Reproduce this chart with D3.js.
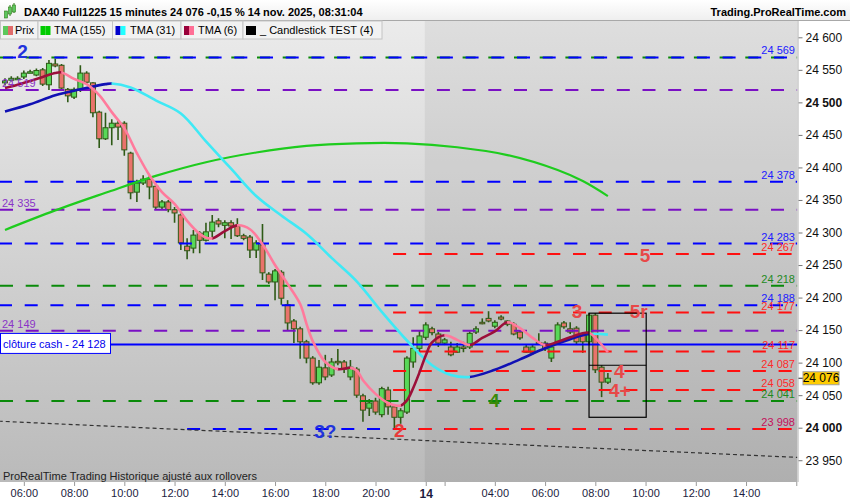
<!DOCTYPE html>
<html><head><meta charset="utf-8">
<script src="https://cdn.jsdelivr.net/npm/d3@7"></script>
<style>
body{margin:0;background:#fff}
svg{display:block}
text{font-family:"Liberation Sans",Arial,sans-serif}
</style>
</head><body>
<svg id="c" width="850" height="500"></svg>
<script>
// ---------------- DATA ----------------
// 15-minute candles, index 0 = 05:15 (13 nov), index 67 = first bar of 14 nov
const opens  = [24530,24534,24537,24539,24547,24542,24550,24527,24559,24557,24520,24508,24519,24545,24530,24485,24444,24461,24468,24468,
                24422,24362,24376,24382,24371,24339,24347,24335,24327,24279,24276,24299,24288,24302,24318,24311,24315,24310,24295,24293,
                24273,24281,24236,24224,24239,24189,24164,24152,24132,24107,24069,24092,24081,24102,24101,24078,24090,24049,24030,24041,
                24020,24058,24032,24016,24024,24101,24122,24139,24152,24144,24130,24124,24116,24124,24124,24147,24162,24168,24156,24170,
                24164,24159,24147,24124,24115,24131,24130,24107,24130,24161,24152,24153,24142,24132,24173,24093,24070];
const highs  = [24537,24540,24540,24549,24550,24552,24553,24565,24567,24559,24522,24523,24557,24548,24531,24487,24484,24474,24473,24471,
                24424,24381,24388,24387,24375,24350,24350,24339,24330,24291,24304,24302,24315,24327,24322,24319,24319,24322,24298,24296,
                24288,24313,24239,24244,24242,24196,24167,24155,24135,24110,24104,24112,24107,24121,24104,24104,24093,24052,24044,24046,
                24063,24063,24035,24030,24110,24139,24150,24162,24155,24147,24138,24132,24130,24132,24148,24156,24168,24179,24165,24173,
                24165,24162,24150,24127,24127,24145,24133,24127,24162,24164,24162,24156,24145,24176,24176,24096,24084];
const lows   = [24526,24532,24535,24536,24545,24540,24525,24519,24554,24520,24500,24505,24516,24528,24477,24430,24442,24434,24442,24418,
                24351,24347,24373,24351,24335,24336,24331,24315,24273,24259,24268,24268,24286,24293,24308,24291,24290,24293,24288,24261,
                24261,24227,24221,24196,24189,24150,24130,24106,24099,24066,24066,24073,24078,24096,24084,24073,24046,24009,24018,24020,
                24016,24020,23999,24006,24021,24092,24115,24135,24142,24124,24127,24110,24115,24116,24121,24144,24159,24162,24153,24165,
                24156,24142,24135,24115,24112,24127,24118,24101,24127,24152,24144,24128,24115,24128,24084,24047,24067];
const closes = [24533,24537,24537,24545,24547,24549,24528,24560,24556,24522,24510,24520,24545,24531,24484,24444,24461,24468,24462,24427,
                24361,24376,24382,24370,24339,24347,24335,24330,24284,24272,24296,24288,24301,24316,24313,24315,24310,24295,24291,24273,
                24284,24238,24224,24241,24199,24161,24152,24132,24107,24069,24093,24078,24101,24100,24090,24093,24050,24027,24038,24024,
                24060,24032,24016,24026,24107,24122,24141,24158,24146,24130,24135,24112,24124,24123,24145,24152,24160,24164,24162,24167,
                24159,24144,24138,24116,24124,24130,24121,24124,24158,24155,24147,24132,24132,24173,24089,24070,24076];

// indicators (read at sample bars)
const tma155Idx = [0,8,16,24,32,40,48,56,64,72,80,88,92,96];
const tma155Val = [24304,24334,24361,24387,24408,24423,24433,24437,24437,24431,24419,24396,24379,24356];
const tma31Idx  = [0,4,8,12,16,17,20,24,28,32,36,40,44,48,52,56,60,64,68,71,74,78,82,86,90,93,96];
const tma31Val  = [24486,24497,24511,24520,24528,24529,24523,24503,24483,24440,24398,24356,24326,24298,24261,24225,24178,24134,24096,24081,24078,24089,24105,24122,24136,24144,24143];
const tma6Idx   = [0,2,4,6,8,9,11,13,15,17,19,21,23,25,27,29,31,32,33,35,37,39,41,43,45,47,48,49,51,53,55,56,57,59,61,63,64,65,66,67,68,70,72,74,76,78,80,82,84,86,88,90,93,94,96];
const tma6Val   = [24522,24527,24533,24539,24545,24546,24536,24528,24511,24485,24460,24422,24388,24362,24344,24318,24298,24292,24291,24302,24311,24305,24282,24250,24221,24190,24160,24133,24101,24090,24092,24088,24073,24052,24038,24034,24042,24061,24085,24111,24131,24142,24135,24127,24138,24148,24162,24153,24138,24127,24132,24139,24146,24138,24116];

// horizontal levels
const blueLevels   = [24569,24378,24283,24188];
const greenLevels  = [24569,24218,24041];
const purpleLevels = [24519,24335,24149];
const redLevels    = [24267,24177,24117,24087,24058,23998];
const blueLowLevel = 23998;
const cashClose    = 24128;
const lastPrice    = 24076;
const trendIdx     = [-1,127];
const trendVal     = [24010,23954];

// axis ticks
const yTicks = [23950,24000,24050,24100,24150,24200,24250,24300,24350,24400,24450,24500,24550,24600];
const xTickIdx    = [3,11,19,27,35,43,51,59,67,70,78,86,94,102,110,118,126];
const xTickLabels = ["06:00","08:00","10:00","12:00","14:00","16:00","18:00","20:00","14","","04:00","06:00","08:00","10:00","12:00","14:00",""];

// annotations
const annText = ["2","3?","2","4","3","5r","5","4","4+"];
const annIdx  = [2.8,51,62.8,77.9,91.1,100.9,101.9,97.8,97.9];
const annVal  = [24568,23984,23986,24032,24168,24168,24255,24077,24047];
const boxIdx  = [93,102.1];
const boxVal  = [24176,24096,24016];

// ---------------- DRAW ----------------
const svg = d3.select("#c");
const W=850,H=500;
const P={l:0,r:797.5,t:21,b:482};
const x = d3.scaleLinear().domain([0,100]).range([5,633]);
const y = d3.scaleLinear().domain([24000,24600]).range([427.7,37.3]);
const fmt = d => d3.format(",")(d).replace(/,/g," ");

const defs = svg.append("defs");
const gL = defs.append("linearGradient").attr("id","bgL").attr("x1",0).attr("x2",0).attr("y1",0).attr("y2",1);
gL.append("stop").attr("offset","0%").attr("stop-color","#ebebeb");
gL.append("stop").attr("offset","100%").attr("stop-color","#bababa");
const gH = defs.append("linearGradient").attr("id","hdr").attr("x1",0).attr("x2",0).attr("y1",0).attr("y2",1);
gH.append("stop").attr("offset","0%").attr("stop-color","#ffffff");
gH.append("stop").attr("offset","100%").attr("stop-color","#eeeeee");
defs.append("clipPath").attr("id","plotClip").append("rect")
  .attr("x",P.l).attr("y",P.t).attr("width",P.r-P.l).attr("height",P.b-P.t);

// backgrounds
svg.append("rect").attr("width",W).attr("height",H).attr("fill","#fff");
svg.append("rect").attr("x",P.l).attr("y",P.t).attr("width",P.r-P.l).attr("height",P.b-P.t).attr("fill","url(#bgL)");
svg.append("rect").attr("x",x(67)-1).attr("y",P.t).attr("width",P.r-(x(67)-1)).attr("height",P.b-P.t)
  .attr("fill","#000").attr("opacity",0.055);

const plot = svg.append("g").attr("clip-path","url(#plotClip)");

// candles
const cg = plot.append("g");
closes.forEach((c,i)=>{
  const o=opens[i],h=highs[i],l=lows[i];
  const up = c>=o;
  const cx = x(i);
  cg.append("line").attr("x1",cx).attr("x2",cx).attr("y1",y(h)).attr("y2",y(l))
    .attr("stroke","#2e5a16").attr("stroke-width",1.6);
  const top=Math.min(y(o),y(c)), bot=Math.max(y(o),y(c));
  cg.append("rect").attr("x",cx-2.5).attr("y",top).attr("width",5).attr("height",Math.max(1.5,bot-top))
    .attr("fill", up?"#58d858":"#e9736b").attr("stroke","#2e5a16").attr("stroke-width",1);
});

// dashed levels
function level(v,color,x0,dashOff){
  plot.append("line").attr("x1",x0).attr("x2",P.r).attr("y1",y(v)).attr("y2",y(v))
    .attr("stroke",color).attr("stroke-width",2).attr("stroke-dasharray","13,12.7")
    .attr("stroke-dashoffset",dashOff||0);
}
greenLevels.forEach(v=>level(v,"#0a8a0a",0,0));
purpleLevels.forEach(v=>level(v,"#7a10c4",0,0));
blueLevels.forEach((v,k)=>level(v,"#0000ff",0,k===0?-3:1));
level(blueLowLevel,"#0000ff",x(29),0);
redLevels.forEach(v=>level(v,"#ff1010",x(61.8),0));

// trend line
plot.append("line").attr("x1",x(trendIdx[0])).attr("x2",x(trendIdx[1]))
  .attr("y1",y(trendVal[0])).attr("y2",y(trendVal[1]))
  .attr("stroke","#333").attr("stroke-width",1.2).attr("stroke-dasharray","4,3");

// cash close line
plot.append("line").attr("x1",P.l).attr("x2",P.r).attr("y1",y(cashClose)).attr("y2",y(cashClose))
  .attr("stroke","#0000ff").attr("stroke-width",2);

// indicators
const lineGen = d3.line().curve(d3.curveCatmullRom.alpha(0.5));
function oneColor(idx,val,color,w){
  plot.append("path").attr("d",lineGen(idx.map((d,k)=>[x(d),y(val[k])])))
    .attr("fill","none").attr("stroke",color).attr("stroke-width",w);
}
function twoColor(idx,val,upC,downC,w,id){
  const pts = idx.map((d,k)=>[x(d),y(val[k])]);
  const d = lineGen(pts);
  const cu = defs.append("clipPath").attr("id",id+"u");
  const cd = defs.append("clipPath").attr("id",id+"d");
  for(let k=0;k<pts.length-1;k++){
    const target = val[k+1]<val[k] ? cd : cu;
    const x0 = k===0 ? -10 : pts[k][0];
    const x1 = k===pts.length-2 ? W : pts[k+1][0];
    target.append("rect").attr("x",x0-0.3).attr("y",0).attr("width",x1-x0+0.6).attr("height",H);
  }
  plot.append("path").attr("d",d).attr("fill","none").attr("stroke",upC).attr("stroke-width",w).attr("clip-path",`url(#${id}u)`);
  plot.append("path").attr("d",d).attr("fill","none").attr("stroke",downC).attr("stroke-width",w).attr("clip-path",`url(#${id}d)`);
}
oneColor(tma155Idx,tma155Val,"#1ecc1e",2.2);
twoColor(tma31Idx,tma31Val,"#1010b4","#3fe9f5",2.6,"t31");
twoColor(tma6Idx,tma6Val,"#9c0f3a","#ff7a9c",2.6,"t6");

// box
plot.append("rect").attr("x",x(boxIdx[0])).attr("y",y(boxVal[0]))
  .attr("width",x(boxIdx[1])-x(boxIdx[0])).attr("height",y(boxVal[2])-y(boxVal[0]))
  .attr("fill","none").attr("stroke","#000").attr("stroke-width",1.2);
plot.append("line").attr("x1",x(boxIdx[0])).attr("x2",x(boxIdx[1])).attr("y1",y(boxVal[1])).attr("y2",y(boxVal[1]))
  .attr("stroke","#000").attr("stroke-width",1.2);

// annotations
const annColor = ["#2233dd","#2233dd","#e83a3a","#3a8a0a","#e84848","#e84848","#e84848","#e84848","#e84848"];
annText.forEach((t,k)=>{
  plot.append("text").attr("x",x(annIdx[k])).attr("y",y(annVal[k])).attr("text-anchor","middle")
    .attr("font-size",19).attr("font-weight","bold").attr("fill",annColor[k]).text(t);
});

// right-side level labels
function rLabel(v,color){
  plot.append("text").attr("x",795).attr("y",y(v)-3).attr("text-anchor","end")
    .attr("font-size",11).attr("fill",color).text(fmt(v));
}
rLabel(24569,"#2020ff");
rLabel(24378,"#2020ff");
rLabel(24283,"#2020ff");
rLabel(24188,"#2020ff");
rLabel(24218,"#1f8a1f");
rLabel(24041,"#1f8a1f");
redLevels.slice(0,5).forEach(v=>rLabel(v,"#ff2a2a"));
rLabel(23998,"#c4105c");
// left purple labels
[24519,24335,24149].forEach(v=>{
  plot.append("text").attr("x",2).attr("y",y(v)-3).attr("font-size",11).attr("fill","#8a34c8").text(fmt(v));
});
// cash close box
plot.append("rect").attr("x",0.5).attr("y",y(cashClose)-11).attr("width",110).attr("height",20)
  .attr("fill","#fff").attr("stroke","#0000ff").attr("stroke-width",1);
plot.append("text").attr("x",3).attr("y",y(cashClose)+4).attr("font-size",11).attr("fill","#0000ee")
  .text("clôture cash -  " + fmt(cashClose));

// footnote
svg.append("text").attr("x",3).attr("y",479.5).attr("font-size",11).attr("fill","#222")
  .text("ProRealTime Trading  Historique ajusté aux rollovers");

// right axis
svg.append("rect").attr("x",P.r).attr("y",P.t).attr("width",W-P.r).attr("height",P.b-P.t).attr("fill","#fff");
svg.append("line").attr("x1",P.r+0.5).attr("x2",P.r+0.5).attr("y1",P.t).attr("y2",P.b).attr("stroke","#b0b0b0");
const ya = svg.append("g").attr("transform",`translate(${P.r+1},0)`)
  .call(d3.axisRight(y).tickValues(yTicks).tickSize(4).tickPadding(3).tickFormat(fmt));
ya.select(".domain").remove();
ya.selectAll(".tick line").attr("stroke","#777");
ya.selectAll(".tick text").attr("font-family","Liberation Sans, Arial, sans-serif").attr("font-size",12)
  .attr("fill","#111").attr("font-weight",d=>(d===24500||d===24000)?"bold":"normal");
// last price tag
svg.append("line").attr("x1",P.r+1).attr("x2",P.r+6).attr("y1",y(lastPrice)).attr("y2",y(lastPrice)).attr("stroke","#222");
svg.append("rect").attr("x",803).attr("y",y(lastPrice)-6.5).attr("width",36).attr("height",13)
  .attr("fill","#ffcc00").attr("stroke","#a0a0a0");
svg.append("text").attr("x",821).attr("y",y(lastPrice)+4).attr("text-anchor","middle").attr("font-size",12)
  .attr("fill","#000").text(fmt(lastPrice));

// bottom axis
const xa = svg.append("g").attr("transform",`translate(0,${P.b})`)
  .call(d3.axisBottom(x).tickValues(xTickIdx).tickSize(4).tickPadding(3).tickFormat((d,k)=>xTickLabels[k]));
xa.select(".domain").remove();
xa.selectAll(".tick line").attr("stroke","#999");
xa.selectAll(".tick text").attr("font-family","Liberation Sans, Arial, sans-serif")
  .attr("fill","#1c1c40").attr("font-weight",(d,k)=>xTickLabels[k]==="14"?"bold":"normal")
  .attr("font-size",(d,k)=>xTickLabels[k]==="14"?12:11);

// header
svg.append("rect").attr("x",0).attr("y",0).attr("width",W).attr("height",P.t).attr("fill","url(#hdr)");
svg.append("line").attr("x1",0).attr("x2",W).attr("y1",P.t-0.5).attr("y2",P.t-0.5).attr("stroke","#a8a8a8");
// icon
[[6,9,15,8,12],[10,5,13,6,10],[14,3,10,4,8]].forEach(c=>{
  svg.append("line").attr("x1",c[0]).attr("x2",c[0]).attr("y1",c[1]+ (c[0]===6?2:0)).attr("y2",c[2]+3).attr("stroke","#2e7a16").attr("stroke-width",1);
  svg.append("rect").attr("x",c[0]-1.5).attr("y",c[3]+(c[0]===6?3:1)).attr("width",3).attr("height",c[4]-c[3]+3).attr("fill","#5cc85c").attr("stroke","#2e7a16").attr("stroke-width",0.6);
});
svg.append("text").attr("x",24).attr("y",16).attr("font-size",11).attr("font-weight","bold").attr("fill","#000")
  .text("DAX40 Full1225 15 minutes 24 076 -0,15 % 14 nov. 2025, 08:31:04");
svg.append("text").attr("x",846).attr("y",16).attr("text-anchor","end").attr("font-size",11).attr("font-weight","bold").attr("fill","#000")
  .text("Trading.ProRealTime.com");

// legend row
const legCells = [[0,37.5],[37.5,112],[112,180.5],[180.5,242.5],[242.5,381.5]];
legCells.forEach(c=>{
  svg.append("rect").attr("x",c[0]+0.5).attr("y",P.t).attr("width",c[1]-c[0]).attr("height",18)
    .attr("fill","#f2f2f2").attr("stroke","#c4c4c4");
});
function sq(x0,c1,c2){
  svg.append("rect").attr("x",x0).attr("y",26).attr("width",5).attr("height",9).attr("fill",c1);
  svg.append("rect").attr("x",x0+5).attr("y",26).attr("width",5).attr("height",9).attr("fill",c2);
}
sq(3,"#5cc85c","#e06b6b");
sq(40.5,"#00cc00","#00cc00");
sq(115.5,"#0000cc","#22ffff");
sq(184,"#99003a","#ff6f96");
sq(246,"#000","#000");
const legT = [["Prix",15],["TMA (155)",54],["TMA (31)",130],["TMA (6)",198],["_ Candlestick TEST (4)",260]];
legT.forEach(t=>svg.append("text").attr("x",t[1]).attr("y",34).attr("font-size",11).attr("fill","#000").text(t[0]));
</script>
</body></html>
